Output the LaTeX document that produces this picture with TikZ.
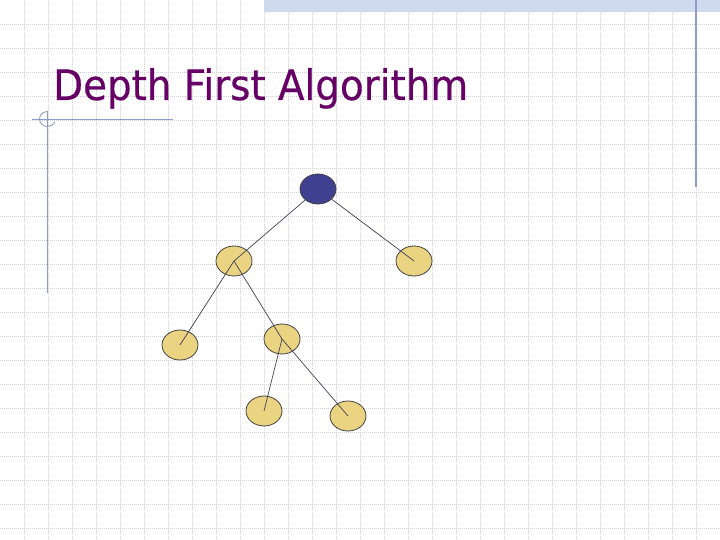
\documentclass[tikz,border=0pt]{standalone}
\usepackage{fontspec}
\usepackage{graphicx}
\setmainfont{DejaVu Sans}
\newfontfamily\titlefont[FakeBold=0.5]{DejaVu Sans}
\usetikzlibrary{shapes.geometric}
\definecolor{titlepurple}{RGB}{102,0,102}
\definecolor{gridgray}{RGB}{208,208,214}
\definecolor{frameblue}{RGB}{140,156,200}
\definecolor{bandblue}{RGB}{208,218,238}
\definecolor{rootblue}{RGB}{64,64,144}
\definecolor{leaftan}{RGB}{234,212,130}
\definecolor{edgegray}{RGB}{60,60,84}
\begin{document}
\begin{tikzpicture}[x=1pt,y=-1pt,
  gridline/.style={gridgray, line width=.7pt, dash pattern=on 1pt off 1pt},
  frameline/.style={frameblue, line width=1.2pt},
  vertex/.style={ellipse, draw=black!75, line width=.8pt, minimum width=36pt, minimum height=30pt, inner sep=0pt},
  treeedge/.style={edgegray, line width=.7pt}]
                \useasboundingbox[fill=white] (0,0) rectangle (720,540);
                % background grid and slide frame
                \foreach \x in {24,48,...,696} \draw[gridline] (\x,0)--(\x,540);
                \foreach \y in {24,48,...,528} \draw[gridline] (0,\y)--(720,\y);
                \fill[bandblue] (264,0) rectangle (720,12);
                \draw[frameline] (696,0)--(696,187);
                \draw[frameline] (47.5,111)--(47.5,293);
                \draw[frameline] (32,119.5)--(173,119.5);
                \draw[frameblue, line width=.9pt] (47.5,111.5) arc [start angle=-90, end angle=-340, x radius=8, y radius=7.5];
                \node[anchor=base west, inner sep=0pt, text=titlepurple, font=\titlefont\fontsize{42}{50}\selectfont] (title) at (53,100) {\scalebox{0.925}[1]{Depth First Algorithm}};
                % the tree
                \node[vertex, fill=rootblue] (root) at (318,189) {};
                \node[vertex, fill=leaftan] (a) at (234,261) {};
                \node[vertex, fill=leaftan] (b) at (414,261) {};
                \node[vertex, fill=leaftan] (c) at (180,345) {};
                \node[vertex, fill=leaftan] (d) at (282,339) {};
                \node[vertex, fill=leaftan] (e) at (264,411) {};
                \node[vertex, fill=leaftan] (f) at (348,416) {};
                \draw[treeedge] (root)--(a.center);
                \draw[treeedge] (root)--(b.center);
                \draw[treeedge] (a.center)--(c.center);
                \draw[treeedge] (a.center)--(d.center);
                \draw[treeedge] (d.center)--(e.center);
                \draw[treeedge] (d.center)--(f.center);
            \end{tikzpicture}
\end{document}
